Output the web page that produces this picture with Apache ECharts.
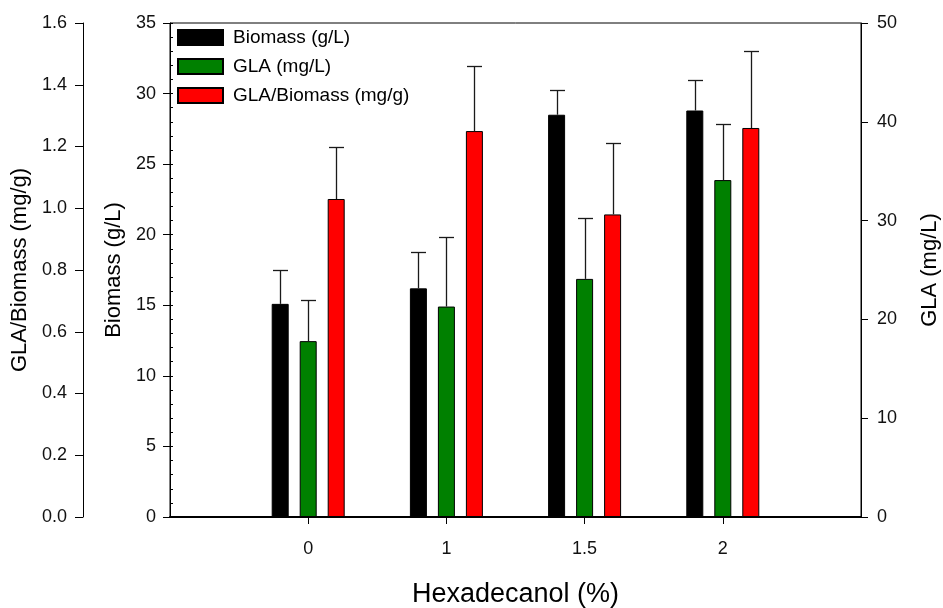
<!DOCTYPE html>
<html>
<head>
<meta charset="utf-8">
<script src="https://cdn.jsdelivr.net/npm/echarts@6/dist/echarts.min.js"></script>
<style>
html,body{margin:0;padding:0;background:#fff;}
#chart{width:943px;height:608px;}
</style>
</head>
<body>
<div id="chart"></div>
<script>
// Data
var categories = ['0', '1', '1.5', '2'];
var biomass = [15.1, 16.2, 28.5, 28.8];          // g/L
var biomassErr = [2.4, 2.6, 1.75, 2.15];
var gla = [17.8, 21.3, 24.1, 34.1];               // mg/L
var glaErr = [4.2, 7.0, 6.2, 5.7];
var ratio = [1.03, 1.25, 0.98, 1.26];             // mg/g
var ratioErr = [0.17, 0.21, 0.23, 0.25];

var biomassTicks = {min: 0, max: 35, interval: 5};
var ratioTicks = {min: 0, max: 1.6, interval: 0.2};
var glaTicks = {min: 0, max: 50, interval: 10};

// padded category axis: empty slots at both ends
var xCats = [''].concat(categories).concat(['']);
function pad(arr) { return ['-'].concat(arr).concat(['-']); }
function errData(vals, errs) {
  return vals.map(function (v, i) { return [i + 1, v, errs[i]]; });
}

var FONT = 'Liberation Sans, Arial, sans-serif';
var BAR_W = 17;
var OFF = 28;

function errSeries(name, yIdx, vals, errs, offset) {
  return {
    type: 'custom',
    name: name,
    yAxisIndex: yIdx,
    z: 5,
    silent: true,
    encode: {x: 0, y: 1},
    data: errData(vals, errs),
    renderItem: function (params, api) {
      var base = api.coord([api.value(0), api.value(1)]);
      var top = api.coord([api.value(0), api.value(1) + api.value(2)]);
      var cx = Math.round(base[0] + offset) + 0.5;
      var ty = Math.round(top[1]) + 0.5;
      var st = {stroke: '#1a1a1a', lineWidth: 1.3};
      return {
        type: 'group',
        children: [
          {type: 'line', shape: {x1: cx, y1: base[1], x2: cx, y2: ty}, style: st},
          {type: 'line', shape: {x1: cx - 7.5, y1: ty, x2: cx + 7.5, y2: ty}, style: st}
        ]
      };
    }
  };
}

var chart = echarts.init(document.getElementById('chart'), null, {renderer: 'canvas'});
var axisTextColor = '#111';
chart.setOption({
  animation: false,
  backgroundColor: '#fff',
  textStyle: {fontFamily: FONT},
  grid: {left: 170, right: 82, top: 23, bottom: 91, containLabel: false, outerBoundsMode: 'none',
    show: true, borderColor: '#000', borderWidth: 1, backgroundColor: 'transparent'},
  legend: {
    orient: 'vertical',
    left: 177, top: 28,
    padding: 0,
    itemWidth: 45, itemHeight: 15,
    itemGap: 10,
    icon: 'rect',
    textStyle: {fontFamily: FONT, fontSize: 19, color: '#000', padding: [0, 0, 0, 5]},
    data: ['Biomass (g/L)', 'GLA (mg/L)', 'GLA/Biomass (mg/g)']
  },
  xAxis: {
    type: 'category',
    data: xCats,
    boundaryGap: false,
    axisLine: {lineStyle: {color: '#000', width: 2}},
    axisTick: {show: true, length: 7, lineStyle: {color: '#000'},
      interval: function (i) { return i > 0 && i < xCats.length - 1; }},
    axisLabel: {fontFamily: FONT, fontSize: 18, color: axisTextColor, margin: 23,
      interval: function (i) { return i > 0 && i < xCats.length - 1; }},
    splitLine: {show: false},
    name: 'Hexadecanol (%)',
    nameLocation: 'middle',
    nameGap: 64,
    nameTextStyle: {fontFamily: FONT, fontSize: 27, color: '#000'}
  },
  yAxis: [
    {
      type: 'value', position: 'left', offset: 0,
      min: biomassTicks.min, max: biomassTicks.max, interval: biomassTicks.interval,
      axisLine: {show: true, lineStyle: {color: '#000', width: 1}},
      axisTick: {show: true, length: 7, lineStyle: {color: '#000'}},
      axisLabel: {fontFamily: FONT, fontSize: 18, color: axisTextColor, margin: 14},
      splitLine: {show: false},
      name: 'Biomass (g/L)', nameLocation: 'middle', nameGap: 32, nameRotate: 90,
      nameTextStyle: {fontFamily: FONT, fontSize: 22, color: '#000'}
    },
    {
      type: 'value', position: 'left', offset: 87,
      min: ratioTicks.min, max: ratioTicks.max, interval: ratioTicks.interval,
      axisLine: {show: true, lineStyle: {color: '#000', width: 1}},
      axisTick: {show: true, length: 8, lineStyle: {color: '#000'}},
      axisLabel: {fontFamily: FONT, fontSize: 18, color: axisTextColor, margin: 16,
        formatter: function (v) { return v.toFixed(1); }},
      splitLine: {show: false},
      name: 'GLA/Biomass (mg/g)', nameLocation: 'middle', nameGap: 45, nameRotate: 90,
      nameTextStyle: {fontFamily: FONT, fontSize: 22, color: '#000'}
    },
    {
      type: 'value', position: 'right', offset: 0,
      min: glaTicks.min, max: glaTicks.max, interval: glaTicks.interval,
      axisLine: {show: true, lineStyle: {color: '#000', width: 1}},
      axisTick: {show: true, length: 7, lineStyle: {color: '#000'}},
      axisLabel: {fontFamily: FONT, fontSize: 18, color: axisTextColor, margin: 16},
      splitLine: {show: false},
      name: 'GLA (mg/L)', nameLocation: 'middle', nameGap: 58, nameRotate: 90,
      nameTextStyle: {fontFamily: FONT, fontSize: 22, color: '#000'}
    },
    {
      // minor ticks of the biomass axis (pointing inward)
      type: 'value', position: 'left', offset: 0,
      min: biomassTicks.min, max: biomassTicks.max, interval: 1,
      axisLine: {show: false},
      axisTick: {show: true, inside: true, length: 3, lineStyle: {color: '#000'}},
      axisLabel: {show: false},
      splitLine: {show: false}
    }
  ],
  series: [
    {
      type: 'bar', name: 'Biomass (g/L)', yAxisIndex: 0,
      data: pad(biomass), barWidth: BAR_W, barGap: ((OFF - BAR_W) / BAR_W * 100) + '%',
      itemStyle: {color: '#000000', borderColor: '#000', borderWidth: 1}
    },
    {
      type: 'bar', name: 'GLA (mg/L)', yAxisIndex: 2,
      data: pad(gla), barWidth: BAR_W,
      itemStyle: {color: '#008000', borderColor: '#000', borderWidth: 1}
    },
    {
      type: 'bar', name: 'GLA/Biomass (mg/g)', yAxisIndex: 1,
      data: pad(ratio), barWidth: BAR_W,
      itemStyle: {color: '#FF0000', borderColor: '#000', borderWidth: 1}
    },
    errSeries('err-biomass', 0, biomass, biomassErr, -OFF),
    errSeries('err-gla', 2, gla, glaErr, 0),
    errSeries('err-ratio', 1, ratio, ratioErr, OFF)
  ]
});
</script>
</body>
</html>
